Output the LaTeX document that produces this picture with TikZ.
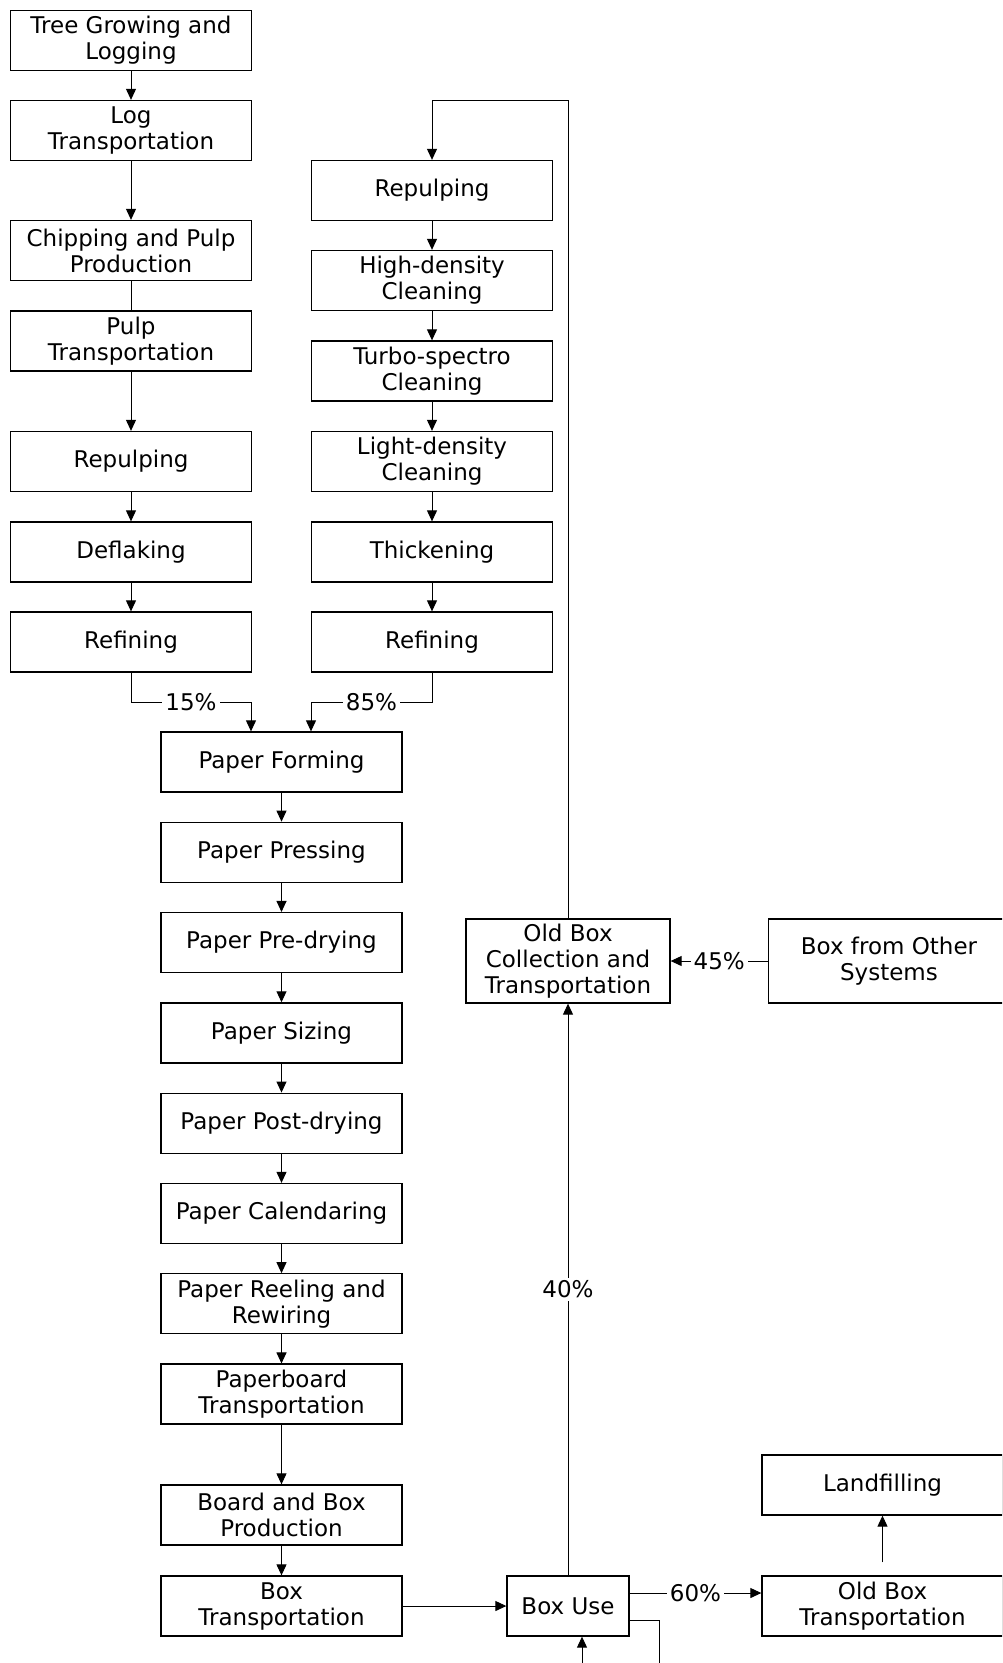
\documentclass[tikz,border=0pt]{standalone}
\usepackage{fontspec}
\setmainfont{DejaVu Sans}
\usetikzlibrary{arrows.meta}

\begin{document}
\begin{tikzpicture}[x=1pt,y=-1pt]
    \def\xl{131}
    \def\xr{432}
    \def\xm{281.5}
    \def\xu{568}
    \def\xo{882.5}
    \def\dy{90.3}

    \tikzstyle{stage}=[draw=black, line width=1.3pt, minimum width=241pt, minimum height=60pt, align=center, inner sep=2pt, font=\fontsize{23}{26}\selectfont]
    \tikzstyle{pct}=[fill=white, inner sep=3pt, font=\fontsize{23}{26}\selectfont]

    \useasboundingbox (0,0) rectangle (1002,1663);
    \clip (0,0) rectangle (1002,1663);

    % virgin fibre line
    \node[stage] (tree) at (\xl,40.5) {Tree Growing and\\Logging};
    \node[stage] (logT) at (\xl,130.5) {Log\\Transportation};
    \node[stage] (chip) at (\xl,250.5) {Chipping and Pulp\\Production};
    \node[stage] (pulpT) at (\xl,341) {Pulp\\Transportation};
    \node[stage] (repL) at (\xl,461.5) {Repulping};
    \node[stage] (defl) at (\xl,552) {Deflaking};
    \node[stage] (refL) at (\xl,642) {Refining};

    % recycled fibre line
    \node[stage] (repR) at (\xr,190.5) {Repulping};
    \node[stage] (hdc) at (\xr,280.5) {High-density\\Cleaning};
    \node[stage] (tsc) at (\xr,371) {Turbo-spectro\\Cleaning};
    \node[stage] (ldc) at (\xr,461.5) {Light-density\\Cleaning};
    \node[stage] (thick) at (\xr,552) {Thickening};
    \node[stage] (refR) at (\xr,642) {Refining};

    % paper machine
    \node[stage] (form) at (\xm,762) {Paper Forming};
    \node[stage] (press) at (\xm,762+1*\dy) {Paper Pressing};
    \node[stage] (predry) at (\xm,762+2*\dy) {Paper Pre-drying};
    \node[stage] (size) at (\xm,762+3*\dy) {Paper Sizing};
    \node[stage] (postdry) at (\xm,762+4*\dy) {Paper Post-drying};
    \node[stage] (cal) at (\xm,762+5*\dy) {Paper Calendaring};
    \node[stage] (reel) at (\xm,762+6*\dy) {Paper Reeling and\\Rewiring};
    \node[stage] (pbT) at (\xm,762+7*\dy) {Paperboard\\Transportation};
    \node[stage] (bbp) at (\xm,1515) {Board and Box\\Production};
    \node[stage] (boxT) at (\xm,1606) {Box\\Transportation};

    % use and end of life
    \node[stage, minimum width=122pt] (use) at (\xu,1606) {Box Use};
    \node[stage, minimum width=204pt, minimum height=84pt] (obc) at (\xu,961) {Old Box\\Collection and\\Transportation};
    \node[stage, minimum height=84pt] (other) at (889,961) {Box from Other\\Systems};
    \node[stage] (obT) at (\xo,1606) {Old Box\\Transportation};
    \node[stage] (land) at (\xo,1485) {Landfilling};

    \coordinate (top) at (0,100);
    \coordinate (jl) at (251,702);
    \coordinate (jr) at (311,702);
    \coordinate (loop) at (659,1700);

    \tikzstyle{fwd} = [draw=black, line width=1pt, -{Triangle[length=11pt,width=10pt]}]

          \draw [fwd] (tree) -- (logT);
          \draw [fwd] (logT) -- (chip);
          \draw [fwd, -] (chip) -- (pulpT);
          \draw [fwd] (pulpT) -- (repL);
          \draw [fwd] (repL) -- (defl);
          \draw [fwd] (defl) -- (refL);

          \draw [fwd] (repR) -- (hdc);
          \draw [fwd] (hdc) -- (tsc);
          \draw [fwd] (tsc) -- (ldc);
          \draw [fwd] (ldc) -- (thick);
          \draw [fwd] (thick) -- (refR);

          \draw [fwd] (refL.south) |- node[pct, pos=0.75] {15\%} (jl) -- (jl |- form.north);
          \draw [fwd] (refR.south) |- node[pct, pos=0.75] {85\%} (jr) -- (jr |- form.north);

          \draw [fwd] (form) -- (press);
          \draw [fwd] (press) -- (predry);
          \draw [fwd] (predry) -- (size);
          \draw [fwd] (size) -- (postdry);
          \draw [fwd] (postdry) -- (cal);
          \draw [fwd] (cal) -- (reel);
          \draw [fwd] (reel) -- (pbT);
          \draw [fwd] (pbT) -- (bbp);
          \draw [fwd] (bbp) -- (boxT);
          \draw [fwd] (boxT) -- (use);

          \draw [fwd] (use) -- node[pct] {40\%} (obc);
          \draw [fwd] (other) -- node[pct] {45\%} (obc);
          \draw [fwd] (obc.north) -- (obc.north |- top) -| (repR.north);
          \draw [fwd] ([yshift=13pt]use.east) -- node[pct] {60\%} ([yshift=13pt]obT.west);
          \draw [fwd] ([yshift=-14pt]use.east) -| (loop) -| ([xshift=14pt]use.south);
          \draw [fwd, shorten <=13pt] (obT) -- (land);

  \end{tikzpicture}
\end{document}
